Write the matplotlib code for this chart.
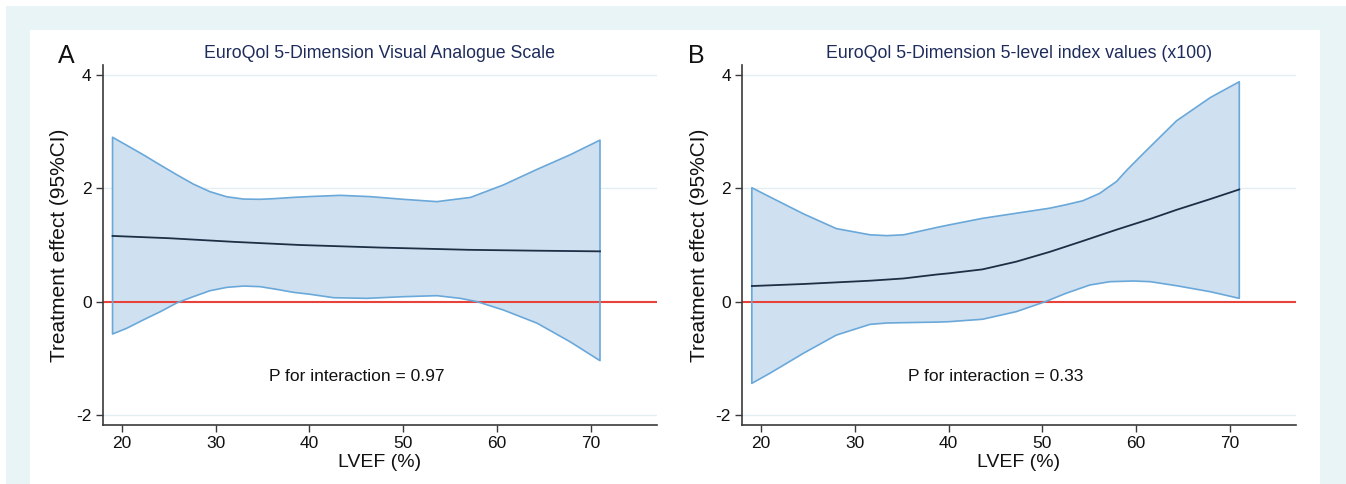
import matplotlib
matplotlib.use("Agg")
import matplotlib.pyplot as plt
from matplotlib.patches import Rectangle

plt.rcParams['font.family'] = ['Liberation Sans', 'DejaVu Sans']
plt.rcParams['axes.unicode_minus'] = False

# ---- data ----
titles = ["EuroQol 5-Dimension Visual Analogue Scale",
          "EuroQol 5-Dimension 5-level index values (x100)"]
panel_letters = ["A", "B"]
p_texts = ["P for interaction = 0.97", "P for interaction = 0.33"]
xticks = [20, 30, 40, 50, 60, 70]
yticks = [-2, 0, 2, 4]

a_up_x = [19, 20.5, 22.3, 24.1, 25.9, 27.6, 29.4, 31.2, 33.0, 34.75, 36.5, 38.3, 40.1, 43.3, 46.5, 50.0, 53.6, 57.2, 60.7, 64.3, 67.8, 71]
a_up_y = [2.9, 2.76, 2.59, 2.41, 2.235, 2.076, 1.94, 1.85, 1.81, 1.806, 1.82, 1.84, 1.855, 1.876, 1.853, 1.806, 1.765, 1.84, 2.06, 2.335, 2.59, 2.85]
a_mid_x = [19, 25, 32, 39, 47.5, 57, 64, 71]
a_mid_y = [1.16, 1.12, 1.055, 1.0, 0.955, 0.915, 0.90, 0.888]
a_lo_x = [19, 20.5, 22.3, 24.1, 25.9, 27.6, 29.4, 31.2, 33.0, 34.75, 36.5, 38.3, 40.1, 42.6, 46.1, 50.0, 53.6, 56.1, 57.9, 60.7, 64.3, 67.8, 71]
a_lo_y = [-0.57, -0.47, -0.32, -0.176, -0.018, 0.088, 0.194, 0.253, 0.276, 0.265, 0.218, 0.165, 0.13, 0.07, 0.059, 0.088, 0.106, 0.059, 0.0, -0.147, -0.38, -0.706, -1.04]

b_up_x = [19, 20.9, 24.5, 28.0, 31.6, 33.4, 35.2, 38.75, 40.0, 43.6, 47.2, 50.8, 52.5, 54.3, 56.1, 57.9, 59.0, 60.8, 64.3, 67.9, 71]
b_up_y = [2.01, 1.85, 1.55, 1.29, 1.18, 1.165, 1.18, 1.31, 1.353, 1.47, 1.56, 1.65, 1.71, 1.78, 1.91, 2.12, 2.32, 2.62, 3.19, 3.6, 3.88]
b_mid_x = [19, 24.5, 31.6, 35.2, 38.75, 40.0, 43.6, 47.2, 50.8, 54.3, 57.9, 61.5, 64.3, 67.9, 71]
b_mid_y = [0.276, 0.312, 0.37, 0.41, 0.48, 0.5, 0.57, 0.706, 0.88, 1.07, 1.27, 1.46, 1.62, 1.81, 1.98]
b_lo_x = [19, 20.9, 24.5, 28.0, 31.6, 33.4, 35.2, 38.75, 40.0, 43.6, 47.2, 50.3, 52.5, 55.05, 57.2, 59.7, 61.5, 64.3, 67.9, 71]
b_lo_y = [-1.44, -1.265, -0.91, -0.59, -0.40, -0.376, -0.37, -0.36, -0.353, -0.31, -0.176, 0.0, 0.147, 0.294, 0.353, 0.365, 0.353, 0.282, 0.176, 0.059]

panels = [
    (a_up_x, a_up_y, a_mid_x, a_mid_y, a_lo_x, a_lo_y),
    (b_up_x, b_up_y, b_mid_x, b_mid_y, b_lo_x, b_lo_y),
]

W, H = 1346, 484
fig = plt.figure(figsize=(W / 100, H / 100), dpi=100)
fig.patch.set_facecolor("white")

# background frame
fig.patches.append(Rectangle((6 / W, 0), (W - 6) / W, (H - 6) / H, transform=fig.transFigure,
                             facecolor="#e9f4f7", edgecolor="none", zorder=-10))
fig.patches.append(Rectangle((30 / W, 0), (1320 - 30) / W, (H - 30) / H, transform=fig.transFigure,
                             facecolor="white", edgecolor="none", zorder=-9))

ax_left = [102.7, 742]
ax_w = 554
ax_top, ax_bot = 65, 425
letter_x = [58, 688]

fill_c = "#cfe1f0"
edge_c = "#6aa8da"
mid_c = "#1d2f45"
red_c = "#e8433b"
grid_c = "#e2eef1"
title_c = "#1e2c5c"

for i, (ux, uy, mx, my, lx, ly) in enumerate(panels):
    ax = fig.add_axes([ax_left[i] / W, 1 - ax_bot / H, ax_w / W, (ax_bot - ax_top) / H])
    ax.set_facecolor("none")
    ax.set_xlim(17.95, 77.05)
    ax.set_ylim(-2.175, 4.175)
    for g in [-2, 2, 4]:
        ax.axhline(g, color=grid_c, lw=1.0, zorder=0)
    poly_x = list(ux) + list(lx)[::-1]
    poly_y = list(uy) + list(ly)[::-1]
    ax.fill(poly_x, poly_y, facecolor=fill_c, edgecolor="none", zorder=1)
    ax.axhline(0, color=red_c, lw=1.5, zorder=2)
    ax.fill(poly_x, poly_y, facecolor="none", edgecolor=edge_c, lw=1.2, zorder=3,
            joinstyle="round")
    ax.plot(mx, my, color=mid_c, lw=1.3, zorder=4, solid_joinstyle="round")
    ax.text(45, -1.32, p_texts[i], ha="center", va="center", fontsize=12.5, color="#111111")

    for s in ["top", "right"]:
        ax.spines[s].set_visible(False)
    for s in ["left", "bottom"]:
        ax.spines[s].set_color("#3a3a3a")
        ax.spines[s].set_linewidth(1.2)
    ax.set_xticks(xticks)
    ax.set_yticks(yticks)
    ax.tick_params(axis="both", direction="out", length=5, width=1, color="#3a3a3a",
                   labelsize=12.5, labelcolor="#111111", pad=3)
    ax.set_xlabel("LVEF (%)", fontsize=14, labelpad=2, color="#111111")
    ax.set_ylabel("Treatment effect (95%CI)", fontsize=15, labelpad=5, color="#111111")
    ax.set_title(titles[i], fontsize=12.8, color=title_c, pad=5)
    fig.text(letter_x[i] / W, 1 - 56 / H, panel_letters[i], fontsize=18, ha="left", va="center",
             color="#111111")

fig.savefig("out.png", dpi=100, facecolor=fig.get_facecolor())
